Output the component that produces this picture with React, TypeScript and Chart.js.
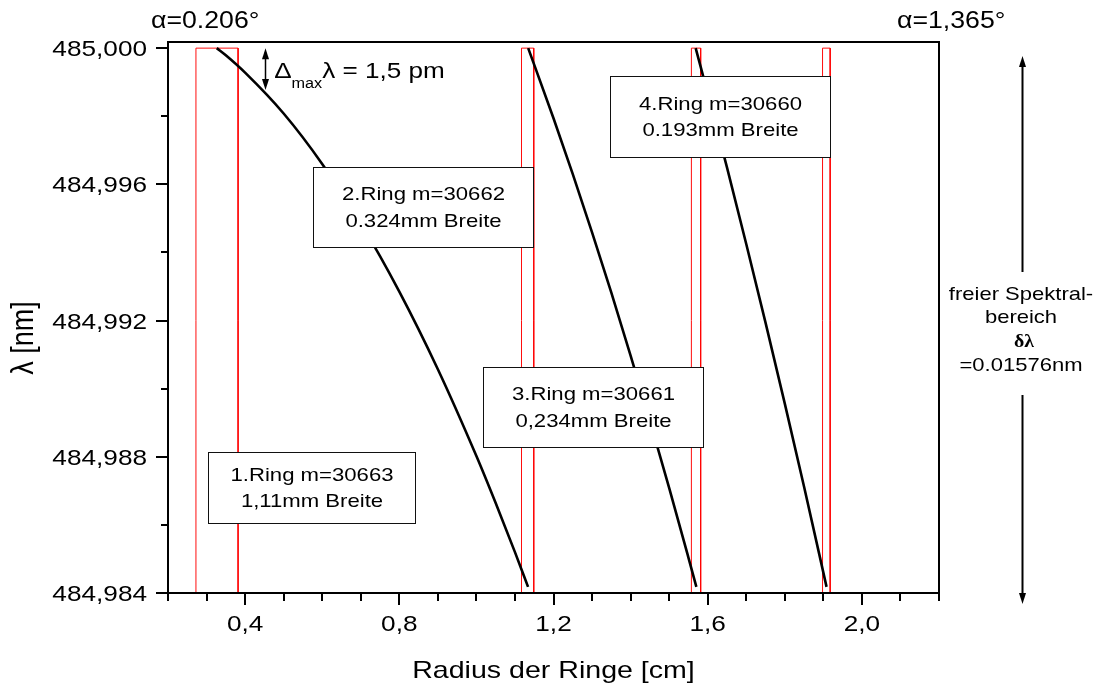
import React, { useEffect, useRef } from "react";
import { Chart, registerables } from "chart.js";

Chart.register(...registerables);

// ---- data ----
// Ring 1 (m = 30663) curve: radius [cm] vs wavelength [nm]
const ring1Radius = [0.3265, 0.35, 0.4, 0.5, 0.6, 0.7, 0.8, 0.9, 1.0, 1.05, 1.1, 1.134];
const ring1Lambda = [485.0, 484.99979, 484.99928, 484.99808, 484.9966, 484.99486, 484.99285, 484.99057, 484.98802, 484.98664, 484.9852, 484.98418];
// Ring 2 (m = 30662)
const ring2Radius = [1.1343, 1.2, 1.25, 1.3, 1.35, 1.4, 1.45, 1.5, 1.55, 1.5706];
const ring2Lambda = [485.0, 484.99794, 484.9963, 484.99459, 484.99282, 484.99097, 484.98906, 484.98709, 484.98504, 484.98418];
// Ring 3 (m = 30661)
const ring3Radius = [1.5688, 1.6, 1.65, 1.7, 1.75, 1.8, 1.85, 1.9083];
const ring3Lambda = [485.0, 484.99867, 484.9965, 484.99425, 484.99194, 484.98956, 484.98712, 484.98418];

// Ring widths (red frames): left / right edge radius [cm]
const ringLeft = [0.2725, 1.117, 1.5577, 1.8979];
const ringRight = [0.3818, 1.1488, 1.5818, 1.9177];
const frameTop = 485.0;
const frameBottom = 484.984;

// axes
const xMin = 0.2;
const xMax = 2.2;
const yMin = 484.984;
const yMax = 485.00018;
const xMajorTicks = [0.4, 0.8, 1.2, 1.6, 2.0];
const xTickLabels = ["0,4", "0,8", "1,2", "1,6", "2,0"];
const xMinorTicks = [0.2, 0.3, 0.5, 0.6, 0.7, 0.9, 1.0, 1.1, 1.3, 1.4, 1.5, 1.7, 1.8, 1.9, 2.1, 2.2];
const yMajorTicks = [484.984, 484.988, 484.992, 484.996, 485.0];
const yTickLabels = ["484,984", "484,988", "484,992", "484,996", "485,000"];
const yMinorTicks = [484.986, 484.99, 484.994, 484.998];

// label boxes (data coordinates)
const boxLines = [
  ["1.Ring m=30663", "1,11mm Breite"],
  ["2.Ring m=30662", "0.324mm Breite"],
  ["3.Ring m=30661", "0,234mm Breite"],
  ["4.Ring m=30660", "0.193mm Breite"],
];
const boxX0 = [0.3039, 0.5766, 1.0182, 1.3455];
const boxX1 = [0.8416, 1.1481, 1.587, 1.9169];
const boxYTop = [484.98814, 484.99651, 484.99064, 484.99918];
const boxYBottom = [484.98606, 484.99416, 484.98829, 484.9968];

const FONT = '"Liberation Sans", Arial, Helvetica, sans-serif';
const STRETCH = 1.19;

function drawText(
  ctx: CanvasRenderingContext2D,
  text: string,
  x: number,
  y: number,
  size: number,
  align: CanvasTextAlign = "left",
  family: string = FONT,
  weight: string = "normal",
  stretch: number = STRETCH
) {
  ctx.save();
  ctx.translate(x, y);
  ctx.scale(stretch, 1);
  ctx.font = `${weight} ${size}px ${family}`;
  ctx.textAlign = align;
  ctx.textBaseline = "alphabetic";
  ctx.fillStyle = "#000";
  ctx.fillText(text, 0, 0);
  ctx.restore();
}

function textWidth(ctx: CanvasRenderingContext2D, text: string, size: number, stretch = STRETCH) {
  ctx.save();
  ctx.font = `normal ${size}px ${FONT}`;
  const w = ctx.measureText(text).width * stretch;
  ctx.restore();
  return w;
}

function arrowHead(ctx: CanvasRenderingContext2D, x: number, y: number, dir: number) {
  // dir = -1 pointing up, +1 pointing down
  ctx.beginPath();
  ctx.moveTo(x, y);
  ctx.lineTo(x - 3.5, y - dir * 11);
  ctx.lineTo(x + 3.5, y - dir * 11);
  ctx.closePath();
  ctx.fill();
}

const decorPlugin = {
  id: "decor",
  afterDatasetsDraw(chart: any) {
    const ctx: CanvasRenderingContext2D = chart.ctx;
    const xs = chart.scales.x;
    const ys = chart.scales.y;
    const X = (v: number) => xs.getPixelForValue(v);
    const Y = (v: number) => ys.getPixelForValue(v);
    const { left, right, top, bottom } = chart.chartArea;

    ctx.save();
    // label boxes
    for (let i = 0; i < boxLines.length; i++) {
      const x0 = Math.round(X(boxX0[i])) + 0.5;
      const x1 = Math.round(X(boxX1[i])) + 0.5;
      const y0 = Math.round(Y(boxYTop[i])) + 0.5;
      const y1 = Math.round(Y(boxYBottom[i])) + 0.5;
      ctx.fillStyle = "#fff";
      ctx.fillRect(x0, y0, x1 - x0, y1 - y0);
      ctx.strokeStyle = "#111";
      ctx.lineWidth = 1;
      ctx.strokeRect(x0, y0, x1 - x0, y1 - y0);
      const cx = (x0 + x1) / 2;
      const cy = (y0 + y1) / 2;
      drawText(ctx, boxLines[i][0], cx, cy - 7.5, 18.6, "center");
      drawText(ctx, boxLines[i][1], cx, cy + 19, 18.6, "center");
    }

    // frame
    ctx.strokeStyle = "#000";
    ctx.lineWidth = 2;
    ctx.strokeRect(Math.round(left), Math.round(top), Math.round(right) - Math.round(left), Math.round(bottom) - Math.round(top));

    // ticks
    ctx.lineWidth = 2;
    ctx.beginPath();
    for (const v of yMajorTicks) {
      const y = Math.round(Y(v));
      ctx.moveTo(left, y);
      ctx.lineTo(left - 12, y);
    }
    for (const v of yMinorTicks) {
      const y = Math.round(Y(v));
      ctx.moveTo(left, y);
      ctx.lineTo(left - 7, y);
    }
    for (const v of xMajorTicks) {
      const x = Math.round(X(v));
      ctx.moveTo(x, bottom);
      ctx.lineTo(x, bottom + 12);
    }
    for (const v of xMinorTicks) {
      const x = Math.round(X(v));
      ctx.moveTo(x, bottom);
      ctx.lineTo(x, bottom + 8);
    }
    ctx.stroke();

    // tick labels
    yMajorTicks.forEach((v, i) => {
      drawText(ctx, yTickLabels[i], left - 21, Y(v) + 8, 22, "right");
    });
    xMajorTicks.forEach((v, i) => {
      drawText(ctx, xTickLabels[i], X(v), bottom + 38, 22, "center");
    });

    // axis titles
    drawText(ctx, "Radius der Ringe [cm]", (left + right) / 2, 678, 24, "center");
    ctx.save();
    ctx.translate(22, 338);
    ctx.scale(STRETCH, 1);
    ctx.rotate(-Math.PI / 2);
    ctx.font = `normal 27px ${FONT}`;
    ctx.textAlign = "center";
    ctx.textBaseline = "alphabetic";
    ctx.fillStyle = "#000";
    ctx.fillText("λ [nm]", 0, 9);
    ctx.restore();

    // angle labels
    drawText(ctx, "α=0.206°", 151, 28, 23, "left", FONT, "normal", 1.16);
    drawText(ctx, "α=1,365°", 897, 28, 23, "left", FONT, "normal", 1.16);

    // Δmax λ arrow and label
    ctx.fillStyle = "#000";
    ctx.strokeStyle = "#000";
    ctx.lineWidth = 1.5;
    const ax = Math.round(X(0.452)) + 0.5;
    const ay0 = Y(485.0);
    const ay1 = Y(484.99877);
    ctx.beginPath();
    ctx.moveTo(ax, ay0 + 4);
    ctx.lineTo(ax, ay1 - 4);
    ctx.stroke();
    arrowHead(ctx, ax, ay0, -1);
    arrowHead(ctx, ax, ay1, 1);
    let tx = X(0.4753);
    const tb = Y(484.99911);
    drawText(ctx, "Δ", tx, tb, 22.5, "left", FONT, "normal", 1.16);
    tx += textWidth(ctx, "Δ", 22.5, 1.16);
    drawText(ctx, "max", tx, tb + 10, 14, "left", FONT, "normal", 1.16);
    tx += textWidth(ctx, "max", 14, 1.16);
    drawText(ctx, "λ = 1,5 pm", tx, tb, 22.5, "left", FONT, "normal", 1.16);

    // free spectral range annotation (right)
    const rx = 1022.5;
    ctx.lineWidth = 2;
    ctx.beginPath();
    ctx.moveTo(rx, 272);
    ctx.lineTo(rx, 62);
    ctx.moveTo(rx, 395);
    ctx.lineTo(rx, 598);
    ctx.stroke();
    arrowHead(ctx, rx, 56, -1);
    arrowHead(ctx, rx, 604, 1);
    drawText(ctx, "freier Spektral-", 1021, 300, 18.5, "center");
    drawText(ctx, "bereich", 1021, 323, 18.5, "center");
    drawText(ctx, "δλ", 1024, 347, 18, "center", '"Liberation Serif", "Times New Roman", serif', "bold", 1.1);
    drawText(ctx, "=0.01576nm", 1021, 371, 18.5, "center");

    ctx.restore();
  },
};

export default function App() {
  const canvasRef = useRef<HTMLCanvasElement | null>(null);

  useEffect(() => {
    const canvas = canvasRef.current;
    if (!canvas) return;

    const curve = (rs: number[], ls: number[]) => rs.map((r, i) => ({ x: r, y: ls[i] }));
    const curveDatasets = [
      curve(ring1Radius, ring1Lambda),
      curve(ring2Radius, ring2Lambda),
      curve(ring3Radius, ring3Lambda),
    ].map((d, i) => ({
      label: `Ring ${i + 1}`,
      data: d,
      showLine: true,
      borderColor: "#000",
      borderWidth: 2.6,
      pointRadius: 0,
      cubicInterpolationMode: "monotone" as const,
      order: 0,
    }));
    const frameDatasets = ringLeft.map((l, i) => ({
      label: `Breite ${i + 1}`,
      data: [
        { x: l, y: frameBottom },
        { x: l, y: frameTop },
        { x: ringRight[i], y: frameTop },
        { x: ringRight[i], y: frameBottom },
      ],
      showLine: true,
      borderColor: "rgba(255,0,0,0.95)",
      borderWidth: 1,
      pointRadius: 0,
      tension: 0,
      order: 1,
    }));

    const chart = new Chart(canvas, {
      type: "scatter",
      data: { datasets: [...curveDatasets, ...frameDatasets] as any },
      options: {
        animation: false,
        responsive: false,
        events: [],
        layout: { padding: { left: 168, right: 154, top: 42, bottom: 92 } },
        plugins: { legend: { display: false }, tooltip: { enabled: false } },
        scales: {
          x: { type: "linear", min: xMin, max: xMax, display: false },
          y: { type: "linear", min: yMin, max: yMax, display: false },
        },
      },
      plugins: [decorPlugin],
    });
    return () => chart.destroy();
  }, []);

  return (
    <div style={{ position: "fixed", left: 0, top: 0, width: 1093, height: 685, background: "#fff" }}>
      <canvas ref={canvasRef} width={1093} height={685} style={{ display: "block" }} />
    </div>
  );
}
